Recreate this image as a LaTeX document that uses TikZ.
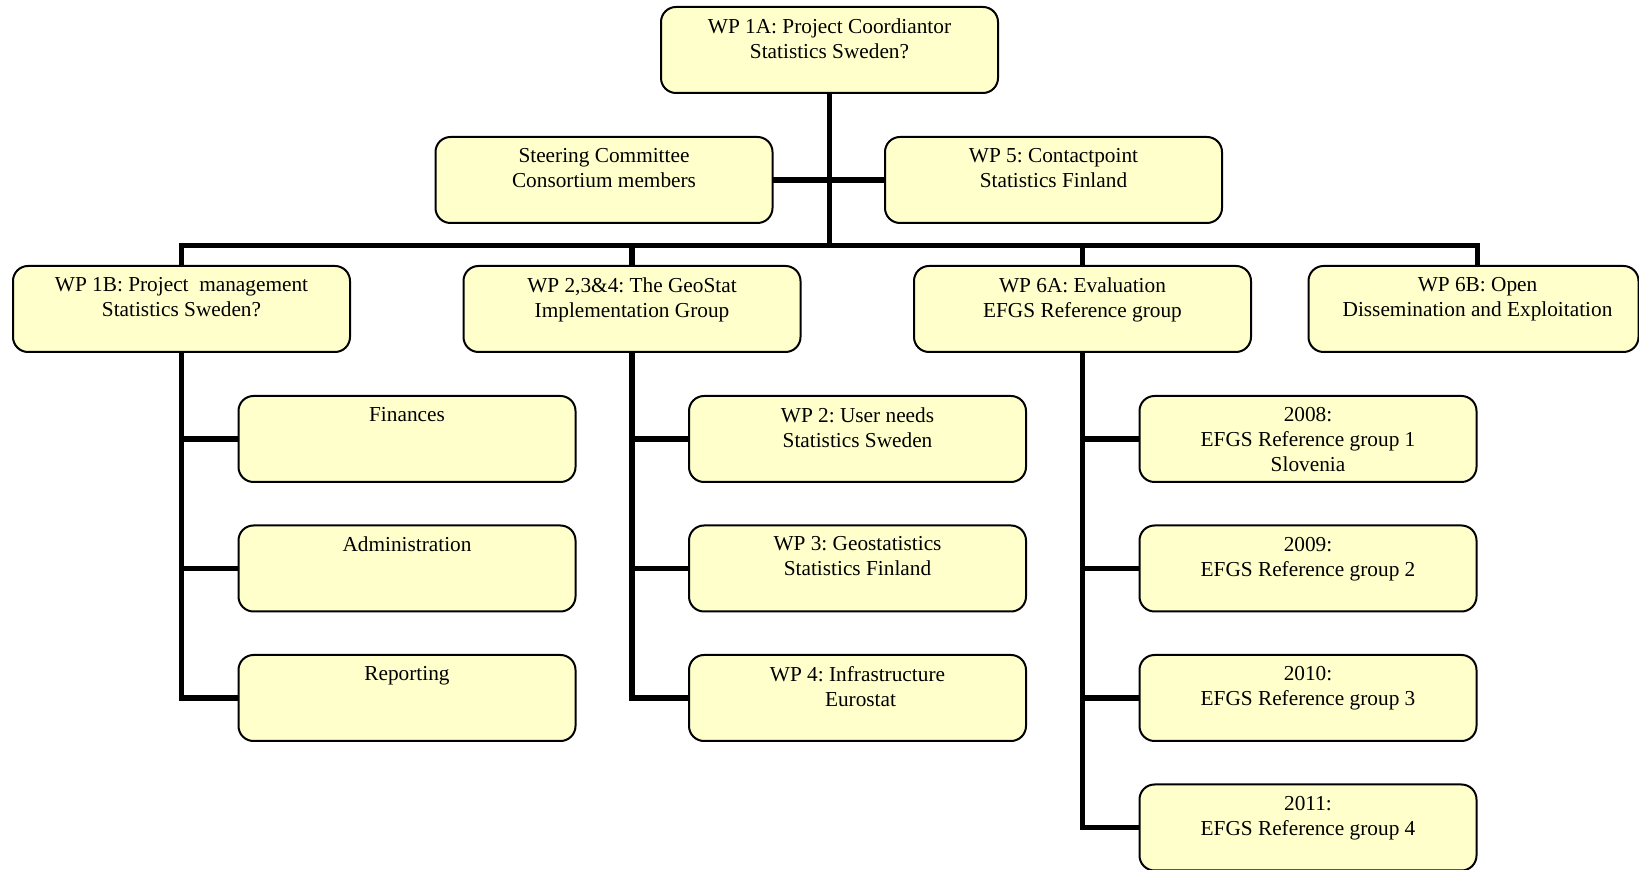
\documentclass[tikz,border=0pt]{standalone}
\usepackage{fontspec}
\setmainfont{Liberation Serif}
\frenchspacing
\begin{document}
\begin{tikzpicture}[x=0.5pt,y=-0.5pt,
  box/.style={draw=black, line width=1pt, fill=boxfill, rounded corners=7.5pt,
    minimum width=168.5pt, minimum height=43pt, inner sep=0pt, outer sep=0pt},
  txt/.style={anchor=north, align=center, inner sep=0pt, yshift=-5.5pt,
    font=\fontsize{10.65}{12.5}\selectfont},
  conn/.style={draw=black, line width=2.8pt}]
\definecolor{boxfill}{RGB}{255,255,204}
\useasboundingbox (0,0) rectangle (1639,870);
% boxes
\node[box] (top) at (829.5,50) {};
\node[txt] (ttop) at (top.north) {WP 1A: Project Coordiantor\\Statistics Sweden?};
\node[box] (steer) at (604,180) {};
\node[txt] (tsteer) at (steer.north) {Steering Committee\\Consortium members};
\node[box] (wp5) at (1053.5,180) {};
\node[txt] (twp5) at (wp5.north) {WP 5: Contactpoint\\Statistics Finland};
\node[box] (wp1b) at (181.5,309) {};
\node[txt] (twp1b) at (wp1b.north) {WP 1B: Project~~management\\Statistics Sweden?};
\node[box] (wp234) at (632,309) {};
\node[txt] (twp234) at (wp234.north) {WP 2,3\&4: The GeoStat\\Implementation Group};
\node[box] (wp6a) at (1082.5,309) {};
\node[txt] (twp6a) at (wp6a.north) {WP 6A: Evaluation\\EFGS Reference group};
\node[box, minimum width=165pt] (wp6b) at (1473.5,309) {};
\node[txt] (twp6b) at ([xshift=2pt]wp6b.north) {WP 6B: Open\\Dissemination and Exploitation};
% column 1
\node[box] (fin) at (407,439) {};
\node[txt] (tfin) at (fin.north) {Finances};
\node[box] (adm) at (407,568.5) {};
\node[txt] (tadm) at (adm.north) {Administration};
\node[box] (rep) at (407,698) {};
\node[txt] (trep) at (rep.north) {Reporting};
% column 2
\node[box] (wp2) at (857.5,439) {};
\node[txt] (twp2) at (wp2.north) {WP 2: User needs\\Statistics Sweden};
\node[box] (wp3) at (857.5,568.5) {};
\node[txt] (twp3) at (wp3.north) {WP 3: Geostatistics\\Statistics Finland};
\node[box] (wp4) at (857.5,698) {};
\node[txt] (twp4) at (wp4.north) {WP 4: Infrastructure\\\hspace*{3pt}Eurostat};
% column 3
\node[box] (r1) at (1308,439) {};
\node[txt] (tr1) at (r1.north) {2008:\\EFGS Reference group 1\\Slovenia};
\node[box] (r2) at (1308,568.5) {};
\node[txt] (tr2) at (r2.north) {2009:\\EFGS Reference group 2};
\node[box] (r3) at (1308,698) {};
\node[txt] (tr3) at (r3.north) {2010:\\EFGS Reference group 3};
\node[box] (r4) at (1308,827.5) {};
\node[txt] (tr4) at (r4.north) {2011:\\EFGS Reference group 4};
% connectors
\coordinate (bus) at (0,245.5);
\coordinate (b6b) at (1477.5,245.5);
\draw[conn] (top.south) -- (top.south |- bus);
\draw[conn] (steer.east) -- (wp5.west);
\draw[conn] (wp1b.north) -- (wp1b.north |- bus) -- (b6b) -- (b6b |- wp6b.north);
\draw[conn] (wp234.north) -- (wp234.north |- bus);
\draw[conn] (wp6a.north) -- (wp6a.north |- bus);
\draw[conn] (wp1b.south) |- (rep.west);
\draw[conn] (fin.west) -- (fin.west -| wp1b.south);
\draw[conn] (adm.west) -- (adm.west -| wp1b.south);
\draw[conn] (wp234.south) |- (wp4.west);
\draw[conn] (wp2.west) -- (wp2.west -| wp234.south);
\draw[conn] (wp3.west) -- (wp3.west -| wp234.south);
\draw[conn] (wp6a.south) |- (r4.west);
\draw[conn] (r1.west) -- (r1.west -| wp6a.south);
\draw[conn] (r2.west) -- (r2.west -| wp6a.south);
\draw[conn] (r3.west) -- (r3.west -| wp6a.south);
\end{tikzpicture}
\end{document}
